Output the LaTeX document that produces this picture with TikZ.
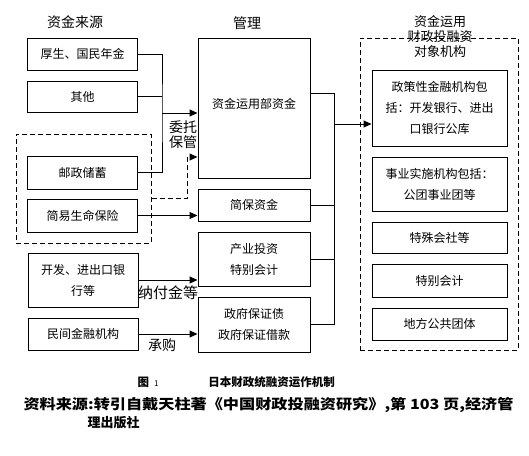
\documentclass[tikz,border=0pt]{standalone}
\usepackage{fontspec}
\setmainfont{Noto Sans CJK SC}
\usepackage{graphicx}
\usepackage{tikz}
\usetikzlibrary{arrows,arrows.meta,calc}

\begin{document}
\begin{tikzpicture}[x=1pt,y=-1pt,>={Triangle[length=8pt,width=7pt]},line width=1pt,
		box/.style={draw,inner sep=1pt,align=center,font=\fontsize{12}{21}\selectfont},
		dbox/.style={draw,dash pattern=on 5pt off 3pt,inner sep=0pt},
		lbl/.style={align=center,font=\fontsize{14}{15}\selectfont}]
			\useasboundingbox (0,0) rectangle (529,455);

			% sources
			\node [lbl] (tsrc) at (75,22) {资金来源};
			\node [box,minimum width=110pt,minimum height=32pt] (hs) at (82.5,54) {厚生、国民年金};
			\node [box,minimum width=110pt,minimum height=31pt] (qt) at (82.5,96.5) {其他};
			\node [dbox,minimum width=135pt,minimum height=109pt] (yzf) at (83.5,188.5) {};
			\node [box,minimum width=110pt,minimum height=33pt] (yz) at (82.5,172.5) {邮政储蓄};
			\node [box,minimum width=110pt,minimum height=33pt] (jy) at (82.5,215.5) {简易生命保险};
			\node [box,minimum width=110pt,minimum height=54pt] (kf) at (83,280) {开发、进出口银\\行等};
			\node [box,minimum width=110pt,minimum height=32pt] (mj) at (83,334) {民间金融机构};

			% management
			\node [lbl] (tmg) at (247,23) {管理};
			\node [box,minimum width=112pt,minimum height=140pt] (zy) at (254,108) {\raisebox{10pt}{资金运用部资金}};
			\node [box,minimum width=112pt,minimum height=32pt] (jb) at (254,205) {简保资金};
			\node [box,minimum width=112pt,minimum height=54pt] (cy) at (254,259) {产业投资\\特别会计};
			\node [box,minimum width=112pt,minimum height=55pt] (zf) at (254,324.5) {政府保证债\\政府保证借款};

			% targets
			\node [dbox,minimum width=158pt,minimum height=312pt] (tgt) at (439,194) {};
			\node [lbl,font=\fontsize{13}{15}\selectfont] (ttgt) at (440,37) {资金运用\\财政投融资\\对象机构};
			\node [box,minimum width=135pt,minimum height=76pt] (zc) at (439.5,108) {政策性金融机构包\\括：开发银行、进出\\口银行公库};
			\node [box,minimum width=135pt,minimum height=54pt] (ss) at (439.5,184) {事业实施机构包括：\\公团事业团等};
			\node [box,minimum width=135pt,minimum height=31pt] (ts) at (439.5,237.5) {特殊会社等};
			\node [box,minimum width=135pt,minimum height=33pt] (tb) at (439.5,280.5) {特别会计};
			\node [box,minimum width=135pt,minimum height=32pt] (df) at (439.5,324) {地方公共团体};

			% sources -> management
			\coordinate (jl) at (162,113);
			\draw (hs.east) -| (jl) |- (yz.east);
			\draw (qt.east) -- (qt.east -| jl);
			\draw [->] (jl) -- (jl -| zy.west);
			\coordinate (jd) at (187,157);
			\draw [dash pattern=on 5pt off 3pt,->] ($(yzf.east)+(0,9.5)$) -| (jd) -- (jd -| zy.west);
			\node [lbl] (lwt) at (183,135) {委托\\保管};
			\draw [->] (jy.east) -- (jy.east -| jb.west);
			\draw [->] (kf.east) -- (kf.east -| cy.west);
			\node [lbl,font=\fontsize{15}{15}\selectfont] (lnf) at (168,293) {纳付金等};
			\draw [->] (mj.east) -- (mj.east -| zf.west);
			\node [lbl] (lcg) at (162,345) {承购};

			% management -> targets
			\coordinate (jr) at (334,124);
			\draw ($(zy.east)+(0,-15)$) -| (jr);
			\draw (zf.east) -| (jr);
			\draw (jb.east) -- (jb.east -| jr);
			\draw (cy.east) -- (cy.east -| jr);
			\draw [->] (jr) -- (jr -| zc.west);

			% caption
			\node [anchor=west,inner sep=0pt,font=\bfseries\fontsize{11.5}{12}\selectfont] (cap) at (137,382) {图\hspace{5pt}{\mdseries\fontsize{8}{8}\selectfont 1}\hspace{50pt}日本财政统融资运作机制};
			\node [anchor=west,inner sep=0pt,font=\bfseries\fontsize{14}{14}\selectfont] (src1) at (23,405) {\resizebox{490pt}{\height}{资料来源:转引自戴天柱著《中国财政投融资研究》,第 103 页,经济管}};
			\node [anchor=west,inner sep=0pt,font=\bfseries\fontsize{13}{13}\selectfont] (src2) at (87,423) {理出版社};
		\end{tikzpicture}
\end{document}
